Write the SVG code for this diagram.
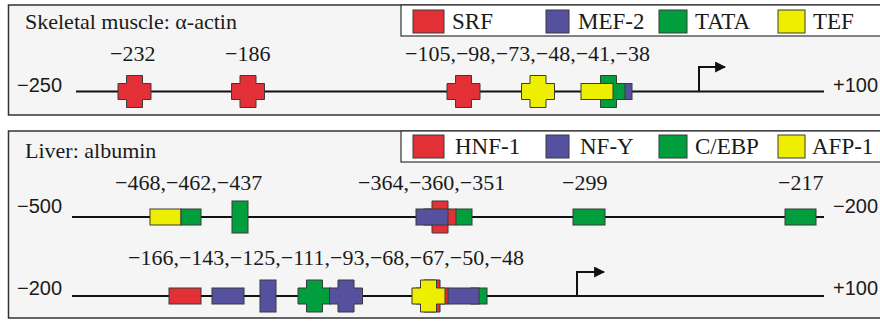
<svg xmlns="http://www.w3.org/2000/svg" xmlns:xlink="http://www.w3.org/1999/xlink" width="880" height="321" viewBox="0 0 880 321">
<style>
.panel{fill:#f5f5f5;stroke:#333;stroke-width:1.5}
.legend{fill:#fff;stroke:#333;stroke-width:1.2}
.r{fill:#e33036;stroke:#3a3a3a;stroke-width:1}
.b{fill:#55519e;stroke:#3a3a3a;stroke-width:1}
.g{fill:#009e3c;stroke:#3a3a3a;stroke-width:1}
.y{fill:#eeee00;stroke:#3a3a3a;stroke-width:1}
.serif{font-family:"Liberation Serif","Times New Roman",serif;font-size:22px;fill:#1a1a1a}
.lg{font-size:23px}
.sans{font-family:"Liberation Sans",Arial,sans-serif;font-size:20px;fill:#1a1a1a}
.dna{stroke:#111;stroke-width:2;fill:none}
.tss{stroke:#111;stroke-width:2;fill:none;marker-end:url(#ah)}
</style>
<defs>
<path id="cross" d="M-8,-16 H8 V-8 H16.5 V8 H8 V16 H-8 V8 H-16.5 V-8 H-8 Z"/>
<marker id="ah" viewBox="0 0 10 10" refX="9" refY="5" markerWidth="5.5" markerHeight="5.5" orient="auto" markerUnits="strokeWidth">
<path d="M0,0 L10,5 L0,10 Z" fill="#111"/>
</marker>
</defs>

<g id="panel1">
<rect class="panel" x="8.5" y="5" width="880" height="110"/>
<text class="serif" x="25" y="29">Skeletal muscle: α-actin</text>
</g>
<g id="legend1">
<rect class="legend" x="401" y="5" width="490" height="31"/>
<rect class="r" x="413" y="10" width="31" height="23"/>
<text class="serif lg" x="452" y="29">SRF</text>
<rect class="b" x="546" y="10" width="23" height="23"/>
<text class="serif lg" x="578" y="29">MEF-2</text>
<rect class="g" x="659" y="10" width="28" height="23"/>
<text class="serif lg" x="695" y="29">TATA</text>
<rect class="y" x="778" y="10" width="27" height="23"/>
<text class="serif lg" x="813" y="29">TEF</text>
</g>

<g id="panel2">
<rect class="panel" x="8.5" y="131" width="880" height="187"/>
<text class="serif" x="25" y="158">Liver: albumin</text>
</g>
<g id="legend2">
<rect class="legend" x="401" y="131" width="490" height="31"/>
<rect class="r" x="413" y="135" width="31" height="23"/>
<text class="serif lg" x="455" y="154">HNF-1</text>
<rect class="b" x="546" y="135" width="23" height="23"/>
<text class="serif lg" x="580" y="154">NF-Y</text>
<rect class="g" x="659" y="135" width="28" height="23"/>
<text class="serif lg" x="695" y="154">C/EBP</text>
<rect class="y" x="778" y="135" width="27" height="23"/>
<text class="serif lg" x="812" y="154">AFP-1</text>
</g>

<g id="connectors">
<line class="dna" x1="76" y1="91.5" x2="824" y2="91.5"/>
<polyline class="tss" points="699,91.5 699,67 725,67"/>
<line class="dna" x1="72" y1="217" x2="824" y2="217"/>
<line class="dna" x1="72" y1="296" x2="824" y2="296"/>
<polyline class="tss" points="577,296 577,272 604,272"/>
</g>

<g id="row-actin">
<text class="sans" x="17" y="92">−250</text>
<text class="sans" x="833" y="92">+100</text>
<text class="serif" x="110" y="61">−232</text>
<text class="serif" x="225" y="61">−186</text>
<text class="serif" x="405" y="61">−105,−98,−73,−48,−41,−38</text>
<g id="srf-232"><use xlink:href="#cross" x="134.5" y="91.5" class="r"/></g>
<g id="srf-186"><use xlink:href="#cross" x="248" y="91.5" class="r"/></g>
<g id="srf-105"><use xlink:href="#cross" x="463.5" y="91.5" class="r"/></g>
<g id="tef-73"><use xlink:href="#cross" x="538" y="91.5" class="y"/></g>
<g id="mef2-38"><rect class="b" x="616" y="83.5" width="16" height="16"/></g>
<g id="tata-41"><use xlink:href="#cross" x="608.5" y="91.5" class="g"/></g>
<g id="tef-48"><rect class="y" x="581" y="83.5" width="32" height="16"/></g>
</g>

<g id="row-albumin-1">
<text class="sans" x="17" y="213">−500</text>
<text class="sans" x="833" y="213">−200</text>
<text class="serif" x="115" y="190">−468,−462,−437</text>
<text class="serif" x="358" y="190">−364,−360,−351</text>
<text class="serif" x="562" y="190">−299</text>
<text class="serif" x="778" y="190">−217</text>
<g id="afp1-468"><rect class="y" x="150" y="209" width="31" height="16"/></g>
<g id="cebp-462"><rect class="g" x="181" y="209" width="20" height="16"/></g>
<g id="cebp-437"><rect class="g" x="232" y="201" width="16" height="32"/></g>
<g id="hnf1-360"><use xlink:href="#cross" x="440" y="217" class="r"/></g>
<g id="nfy-364"><rect class="b" x="416" y="209" width="32" height="16"/></g>
<g id="cebp-351"><rect class="g" x="456" y="209" width="16" height="16"/></g>
<g id="cebp-299"><rect class="g" x="573" y="209" width="32" height="16"/></g>
<g id="cebp-217"><rect class="g" x="785" y="209" width="31" height="16"/></g>
</g>

<g id="row-albumin-2">
<text class="sans" x="17" y="295">−200</text>
<text class="sans" x="833" y="295">+100</text>
<text class="serif" x="128" y="265">−166,−143,−125,−111,−93,−68,−67,−50,−48</text>
<g id="hnf1-166"><rect class="r" x="169" y="288" width="32" height="16"/></g>
<g id="nfy-143"><rect class="b" x="212" y="288" width="32" height="16"/></g>
<g id="nfy-125"><rect class="b" x="260" y="280" width="16" height="32"/></g>
<g id="cebp-111"><use xlink:href="#cross" x="314.5" y="296" class="g"/></g>
<g id="nfy-93"><use xlink:href="#cross" x="346" y="296" class="b"/></g>
<g id="hnf1-67"><use xlink:href="#cross" x="432" y="296" class="r"/></g>
<g id="afp1-68"><use xlink:href="#cross" x="428.5" y="296" class="y"/></g>
<g id="cebp-48"><rect class="g" x="471" y="288" width="16" height="16"/></g>
<g id="nfy-50"><rect class="b" x="448" y="288" width="31" height="16"/></g>
</g>
</svg>
